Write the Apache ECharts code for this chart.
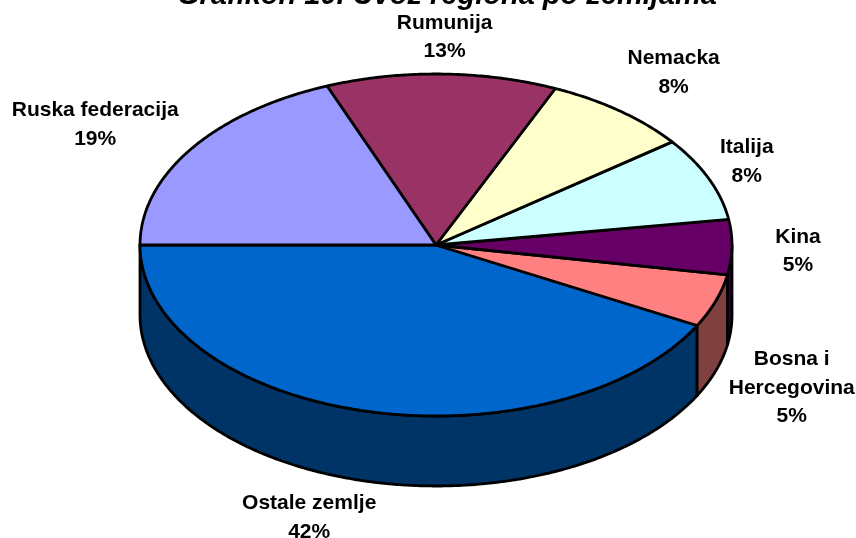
<!DOCTYPE html>
<html>
<head>
<meta charset="utf-8">
<style>
  html, body { margin: 0; padding: 0; background: #fff; }
  #chart { width: 856px; height: 538px; }
</style>
<script src="https://cdn.jsdelivr.net/npm/echarts@6/dist/echarts.min.js"></script>
</head>
<body>
<div id="chart"></div>
<script>
const titleText = 'Grafikon 10. Uvoz regiona po zemljama';
const categories = ['Ostale zemlje', 'Bosna i\nHercegovina', 'Kina', 'Italija', 'Nemacka', 'Rumunija', 'Ruska federacija'];
const shares = [42.2, 5.0, 5.2, 7.9, 8.1, 12.6, 19.0];
const topColors = ['#0066CC', '#FF8080', '#660066', '#CCFFFF', '#FFFFCC', '#993366', '#9999FF'];
const sideColors = ['#003366', '#804040', '#330033', '#666680', '#808066', '#4D1A33', '#4D4D80'];
// label distance from the rim, at the middle of each slice
const labelNudge = [[-55, 107], [76, 87], [66, 4], [38, -17], [54, -38], [3, -37], [-96, -24]];

const CX = 436, CY = 245, RX = 296, RY = 171, DEPTH = 70;
const total = shares.reduce((a, b) => a + b, 0);

const rim = (deg, dy = 0) => {
  const t = deg * Math.PI / 180;
  return [CX + RX * Math.cos(t), CY + RY * Math.sin(t) + dy];
};

// angles run from the left edge, through the front, back to the left edge
const arc = (from, to, dy = 0) => {
  const steps = Math.max(2, Math.ceil(Math.abs(from - to) * 2));
  const pts = [];
  for (let i = 0; i <= steps; i++) pts.push(rim(from + (to - from) * i / steps, dy));
  return pts;
};

const renderSlice = (params, api) => {
  const i = params.dataIndex;
  const before = shares.slice(0, i).reduce((a, b) => a + b, 0);
  const start = 180 - before / total * 360;
  const end = start - api.value(1) / total * 360;
  const mid = (start + end) / 2;
  const children = [];
  const lineStyle = { stroke: '#000', lineWidth: 2.8, lineJoin: 'round' };

  // front wall, only the part of the slice below the horizontal axis
  const sideFrom = Math.min(start, 180);
  const sideTo = Math.max(end, 0);
  if (sideFrom > sideTo) {
    children.push({
      type: 'polygon',
      shape: { points: arc(sideFrom, sideTo).concat(arc(sideTo, sideFrom, DEPTH)) },
      style: { fill: sideColors[i], ...lineStyle }
    });
  }

  children.push({
    type: 'polygon',
    shape: { points: [[CX, CY]].concat(arc(start, end)) },
    style: { fill: topColors[i], ...lineStyle }
  });

  const anchor = rim(mid);
  children.push({
    type: 'text',
    z2: 10,
    style: {
      text: categories[i] + '\n' + Math.round(api.value(1) / total * 100) + '%',
      x: anchor[0] + labelNudge[i][0],
      y: anchor[1] + labelNudge[i][1],
      align: 'center',
      verticalAlign: 'middle',
      font: 'bold 21px "Liberation Sans", Arial, sans-serif',
      lineHeight: 28.5,
      fill: '#000'
    }
  });

  return { type: 'group', children };
};

const chart = echarts.init(document.getElementById('chart'), null, { renderer: 'canvas' });
chart.setOption({
  backgroundColor: '#fff',
  animation: false,
  title: {
    text: titleText,
    left: 172,
    top: -24,
    textStyle: {
      fontFamily: '"Liberation Sans", Arial, sans-serif',
      fontSize: 29,
      fontWeight: 'bold',
      fontStyle: 'italic',
      color: '#000'
    }
  },
  series: [{
    type: 'custom',
    coordinateSystem: 'none',
    renderItem: renderSlice,
    data: shares.map((v, i) => [i, v]),
    silent: true
  }]
});
</script>
</body>
</html>
